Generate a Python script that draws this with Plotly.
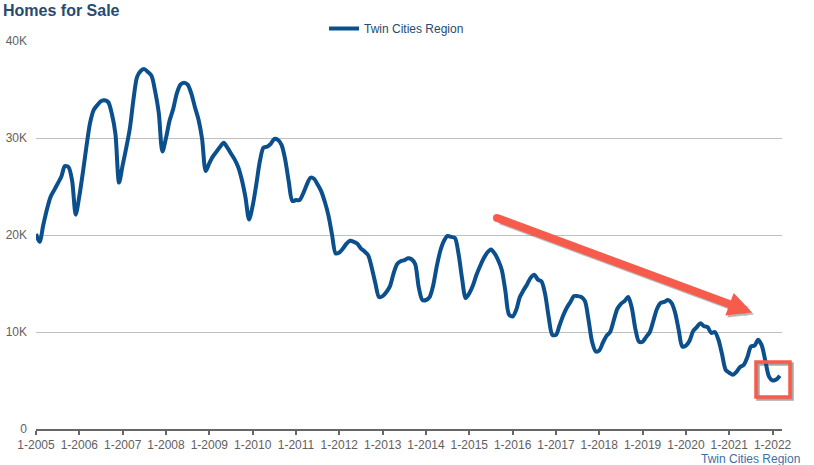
import plotly.graph_objects as go

# Monthly "Homes for Sale" (thousands), Twin Cities Region, Jan 2005 - Mar 2022
y2005 = [20.1, 19.3, 21.0, 22.6, 23.9, 24.6, 25.3, 26.0, 27.1, 27.0, 25.6, 22.1]
y2006 = [24.0, 26.5, 29.2, 31.6, 32.9, 33.4, 33.8, 33.9, 33.7, 32.5, 30.4, 25.4]
y2007 = [27.2, 29.0, 31.0, 34.0, 36.3, 36.9, 37.1, 36.8, 36.4, 34.8, 32.6, 28.6]
y2008 = [30.0, 31.8, 33.0, 34.6, 35.5, 35.7, 35.5, 34.6, 33.2, 31.9, 29.9, 26.6]
y2009 = [27.4, 28.1, 28.6, 29.1, 29.5, 29.0, 28.4, 27.8, 27.0, 25.7, 23.9, 21.6]
y2010 = [23.0, 25.2, 27.6, 29.0, 29.1, 29.4, 29.9, 29.8, 29.3, 27.8, 25.5, 23.5]
y2011 = [23.6, 23.6, 24.3, 25.2, 25.9, 25.8, 25.2, 24.5, 23.4, 22.0, 20.0, 18.1]
y2012 = [18.2, 18.6, 19.1, 19.4, 19.3, 19.1, 18.6, 18.3, 17.9, 16.6, 15.0, 13.6]
y2013 = [13.7, 14.1, 14.7, 16.0, 17.0, 17.3, 17.4, 17.6, 17.5, 17.0, 14.6, 13.3]
y2014 = [13.3, 13.6, 14.8, 16.8, 18.4, 19.4, 19.9, 19.8, 19.7, 18.1, 15.5, 13.5]
y2015 = [14.0, 14.8, 15.9, 16.8, 17.6, 18.2, 18.5, 18.1, 17.4, 16.4, 14.2, 11.8]
y2016 = [11.6, 12.3, 13.6, 14.3, 14.9, 15.6, 15.9, 15.4, 15.2, 13.9, 11.5, 9.7]
y2017 = [9.7, 10.7, 11.7, 12.5, 13.1, 13.7, 13.7, 13.6, 13.2, 11.3, 9.0, 8.0]
y2018 = [8.1, 8.9, 9.6, 10.0, 11.2, 12.4, 12.9, 13.2, 13.6, 12.5, 10.3, 9.0]
y2019 = [9.0, 9.5, 10.0, 11.2, 12.4, 13.0, 13.1, 13.3, 13.0, 12.0, 10.2, 8.5]
y2020 = [8.6, 9.1, 10.1, 10.5, 10.9, 10.6, 10.5, 9.9, 10.0, 9.2, 7.7, 6.1]
y2021 = [5.8, 5.6, 5.9, 6.4, 6.6, 7.4, 8.5, 8.6, 9.2, 8.6, 7.0, 5.4]
y2022 = [5.0, 5.1, 5.5]

years = list(range(2005, 2023))
series_by_year = [y2005, y2006, y2007, y2008, y2009, y2010, y2011, y2012, y2013,
                  y2014, y2015, y2016, y2017, y2018, y2019, y2020, y2021, y2022]

y_tick_vals = [0, 10000, 20000, 30000, 40000]
y_tick_text = ["0", "10K", "20K", "30K", "40K"]

labels = []
values = []
for yr, arr in zip(years, series_by_year):
    for i, v in enumerate(arr):
        labels.append(f"{i + 1}-{yr}")
        values.append(v * 1000)
idx = list(range(len(values)))
x_tick_vals = [i for i, lab in enumerate(labels) if lab.startswith("1-")]
x_tick_text = [labels[i] for i in x_tick_vals]

FONT = "Liberation Sans, Arial, sans-serif"
BLUE = "#0b4f8c"
CORAL = "#f75b4c"

fig = go.Figure()
fig.add_trace(go.Scatter(
    x=idx, y=values, mode="lines", name="Twin Cities Region",
    line=dict(color=BLUE, width=4, shape="spline", smoothing=0.8),
    customdata=labels, hovertemplate="%{customdata}: %{y:,.0f}<extra></extra>",
))

W, H = 814, 465
ml, mr, mt, mb = 36, 32, 41, 36
pw, ph = W - ml - mr, H - mt - mb

def px(xp):
    return (xp - ml) / pw

def py(yp):
    return (H - mb - yp) / ph

fig.update_layout(
    width=W, height=H,
    margin=dict(l=ml, r=mr, t=mt, b=mb, autoexpand=False),
    paper_bgcolor="white", plot_bgcolor="white",
    font=dict(family=FONT, size=12, color="#606060"),
    title=dict(text="<b>Homes for Sale</b>", x=3 / W, xanchor="left",
               y=1 - 10.5 / H, yanchor="middle",
               font=dict(family=FONT, size=16, color="#274b6d")),
    showlegend=True,
    legend=dict(orientation="h", x=px(324), xanchor="left", y=py(28.5), yanchor="middle",
                font=dict(family=FONT, size=12, color="#274b6d"),
                bgcolor="rgba(0,0,0,0)"),
    xaxis=dict(range=[0, 206.6], tickvals=x_tick_vals, ticktext=x_tick_text,
               showgrid=False, zeroline=False, showline=True, linecolor="#666666",
               linewidth=2, ticks="outside", ticklen=4, tickwidth=1.5, tickcolor="#666666",
               tickfont=dict(size=12, color="#606060"), automargin=False),
    yaxis=dict(range=[0, 40000], tickvals=y_tick_vals, ticktext=y_tick_text,
               showgrid=True, gridcolor="#c0c0c0", gridwidth=1, zeroline=False,
               showline=False, ticks="", ticklabelstandoff=8,
               tickfont=dict(size=12, color="#606060"), automargin=False),
    hovermode="closest",
)

# credits
fig.add_annotation(text="Twin Cities Region", xref="paper", yref="paper",
                   x=px(802), y=py(458.5), xanchor="right", yanchor="middle",
                   showarrow=False, font=dict(family=FONT, size=12, color="#3e6fa6"))

# trend arrow (shadow then arrow)
head = (752, 312.5)
tail = (497, 218)
for dx, dy, col in [(2, 2, "rgba(60,60,60,0.35)"), (0, 0, CORAL)]:
    fig.add_annotation(text="", xref="paper", yref="paper",
                       x=px(head[0] + dx), y=py(head[1] + dy),
                       ax=tail[0] - head[0], ay=tail[1] - head[1],
                       showarrow=True, arrowhead=2, arrowsize=0.6, arrowwidth=8,
                       arrowcolor=col, standoff=0, startstandoff=0)
fig.add_shape(type="circle", xref="paper", yref="paper",
              x0=px(tail[0] - 4), x1=px(tail[0] + 4), y0=py(tail[1] + 4), y1=py(tail[1] - 4),
              fillcolor=CORAL, line=dict(width=0), layer="above")

# highlight box (shadow then box)
for dx, dy, col in [(2, 2, "rgba(60,60,60,0.45)"), (0, 0, CORAL)]:
    fig.add_shape(type="rect", xref="paper", yref="paper",
                  x0=px(756 + dx), x1=px(790 + dx), y0=py(397 + dy), y1=py(362 + dy),
                  line=dict(color=col, width=3.5), fillcolor="rgba(0,0,0,0)", layer="above")

fig.write_html("out.html", config={"displayModeBar": False},
               post_script="document.body.style.margin='0px';document.body.style.overflow='hidden';")
